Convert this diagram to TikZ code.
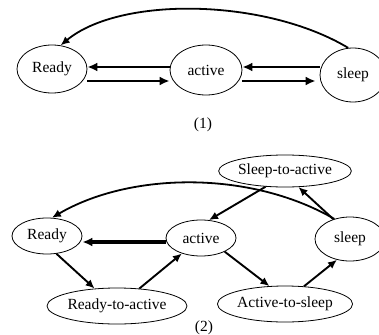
\documentclass[tikz,border=0pt]{standalone}
\usepackage{fontspec}
\setmainfont{Liberation Serif}
\usetikzlibrary{shapes.geometric,arrows.meta}
\begin{document}
\begin{tikzpicture}[x=1pt,y=-1pt,
  state/.style={draw,ellipse,inner sep=0pt,line width=0.8pt,font=\fontsize{15.5}{17}\selectfont},
  caption/.style={font=\fontsize{15.5}{17}\selectfont},
  thick arrow/.style={line width=2.8pt,-{Latex[length=10pt,width=9pt]}},
  thin arrow/.style={line width=1.9pt,-{Latex[length=9pt,width=8pt]}},
  bend arrow/.style={line width=1.8pt,-{Latex[length=9pt,width=8pt]}}]
\useasboundingbox (0,0) rectangle (379,334);

% (1): three states
\node[state,minimum width=70pt,minimum height=48pt] (R1) at (52,69) {Ready};
\node[state,minimum width=72pt,minimum height=50pt] (A1) at (206,70) {active};
\node[state,minimum width=66pt,minimum height=54pt] (S1) at (353,75) {sleep};

\draw[thick arrow] ([yshift=3pt]A1.west) -- ([yshift=2pt]R1.east);
\draw[thick arrow] ([yshift=-12pt]R1.east) -- ([yshift=-11pt]A1.west);
\draw[thick arrow] ([yshift=8pt]S1.west) -- ([yshift=3pt]A1.east);
\draw[thick arrow] ([yshift=-11pt]A1.east) -- ([yshift=-6pt,xshift=-4pt]S1.west);
\draw[bend arrow] (S1.100) .. controls (265,-2) and (120,-4) .. (R1.70);

\node[caption] (c1) at (203,125) {(1)};

% (2): states with transition states
\node[state,minimum width=70pt,minimum height=36pt] (R2) at (47,236) {Ready};
\node[state,minimum width=70pt,minimum height=36pt] (A2) at (201,238) {active};
\node[state,minimum width=70pt,minimum height=44pt] (S2) at (350,239) {sleep};
\node[state,minimum width=126pt,minimum height=32pt] (SA) at (285,171) {Sleep-to-active};
\node[state,minimum width=136pt,minimum height=36pt] (RA) at (117,306) {Ready-to-active};
\node[state,minimum width=126pt,minimum height=36pt] (AS) at (285,304) {Active-to-sleep};

\draw[line width=3.4pt,-{Latex[length=10pt,width=9pt]}] ([yshift=-4pt]A2.west) -- ([yshift=-6pt]R2.east);
\draw[thin arrow] (R2.-62) -- (RA.142);
\draw[thin arrow] (RA.38) -- (A2.219);
\draw[thin arrow] (A2.-30) -- (AS.131);
\draw[thin arrow] (AS.43) -- (S2.238);
\draw[thin arrow] (S2.130) -- (SA.-50);
\draw[thin arrow] (SA.219) -- (A2.66);
\draw[bend arrow] (S2.128) .. controls (250,170) and (130,172) .. (R2.75);

\node[caption] (c2) at (204,328) {(2)};
\end{tikzpicture}
\end{document}
